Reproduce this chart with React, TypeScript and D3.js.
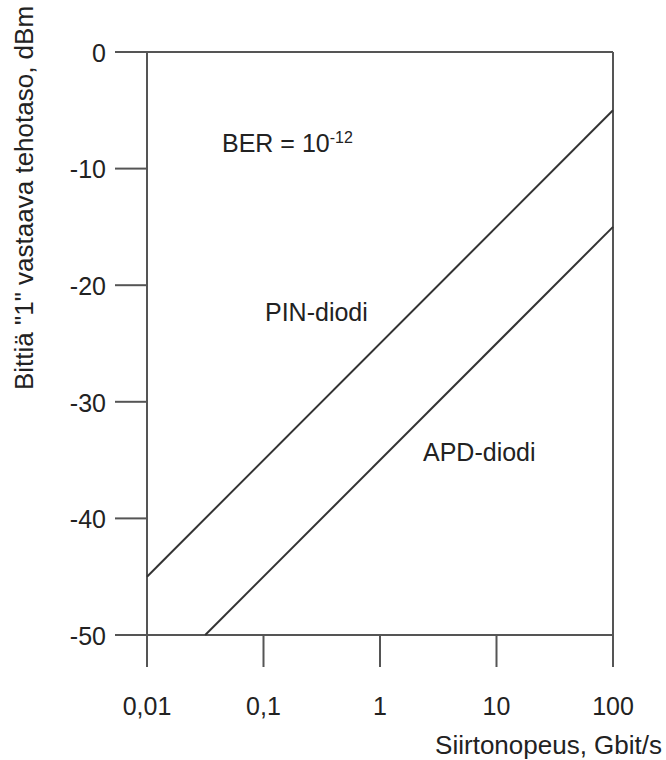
import React from "react";
import * as d3 from "d3";

const xTicks = [0.01, 0.1, 1, 10, 100];
const xTickLabels = ["0,01", "0,1", "1", "10", "100"];
const yTicks = [0, -10, -20, -30, -40, -50];
const pinRate = [0.01, 100];
const pinPower = [-45, -5];
const apdRate = [0.0316, 100];
const apdPower = [-50, -15];

export default function App() {
  const W = 666, H = 760;
  const x = d3.scaleLog().domain([0.01, 100]).range([147, 613]);
  const y = d3.scaleLinear().domain([-50, 0]).range([635, 52]);
  const line = d3.line<[number, number]>().x(d => x(d[0])).y(d => y(d[1]));
  const pin = pinRate.map((r, i) => [r, pinPower[i]] as [number, number]);
  const apd = apdRate.map((r, i) => [r, apdPower[i]] as [number, number]);
  const font = "Arial, 'Liberation Sans', sans-serif";
  const ax = "#555";
  const fs = 25;
  return (
    <svg width={W} height={H} style={{ position: "absolute", left: 0, top: 0, background: "#fff" }} fontFamily={font}>
      {/* frame */}
      <line x1={x(0.01)} x2={x(100)} y1={y(0)} y2={y(0)} stroke={ax} strokeWidth={2} />
      <line x1={x(100)} x2={x(100)} y1={y(0)} y2={y(-50)} stroke={ax} strokeWidth={2} />
      <line x1={x(0.01)} x2={x(100)} y1={y(-50)} y2={y(-50)} stroke={ax} strokeWidth={2} />
      <line x1={x(0.01)} x2={x(0.01)} y1={y(0)} y2={y(-50)} stroke={ax} strokeWidth={2} />
      {yTicks.map(t => (
        <g key={t}>
          <line x1={115} x2={x(0.01)} y1={y(t)} y2={y(t)} stroke={ax} strokeWidth={2} />
          <text x={106} y={y(t) + 1} dy="0.35em" textAnchor="end" fontSize={fs} fill="#222">{t}</text>
        </g>
      ))}
      {xTicks.map((t, i) => (
        <g key={t}>
          <line x1={x(t)} x2={x(t)} y1={y(-50)} y2={667} stroke={ax} strokeWidth={2} />
          <text x={x(t)} y={706} dy="0.35em" textAnchor="middle" fontSize={fs} fill="#222">{xTickLabels[i]}</text>
        </g>
      ))}
      <path d={line(pin) || ""} stroke="#333" strokeWidth={2} fill="none" />
      <path d={line(apd) || ""} stroke="#333" strokeWidth={2} fill="none" />
      <text x={222} y={143} dy="0.35em" fontSize={fs} fill="#222">
        BER = 10<tspan fontSize={16} dy="-9">-12</tspan>
      </text>
      <text x={265} y={312} dy="0.35em" fontSize={fs} fill="#222">PIN-diodi</text>
      <text x={423} y={452} dy="0.35em" fontSize={fs} fill="#222">APD-diodi</text>
      <text x={662} y={745} dy="0.35em" textAnchor="end" fontSize={26} fill="#222">Siirtonopeus, Gbit/s</text>
      <text transform="translate(24,198) rotate(-90)" dy="0.35em" textAnchor="middle" fontSize={26} fill="#222">Bittiä "1" vastaava tehotaso, dBm</text>
    </svg>
  );
}
